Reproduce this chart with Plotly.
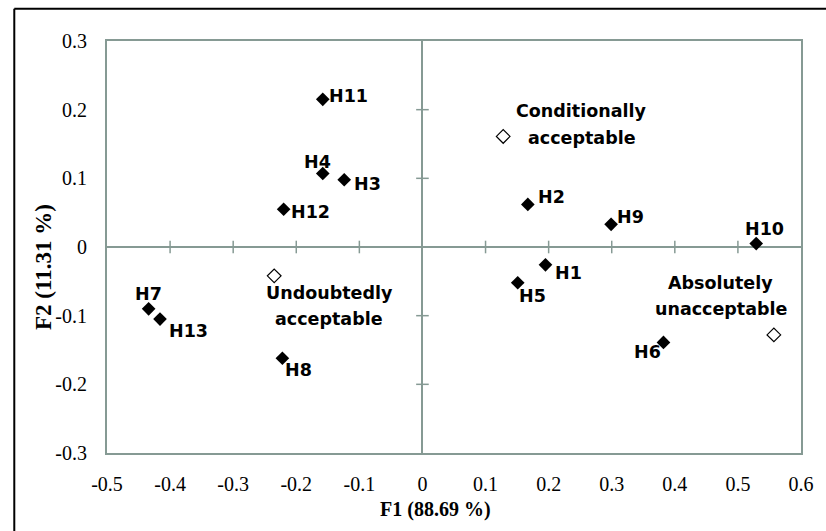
import plotly.graph_objects as go

# ---- data ----
names = ["H1", "H2", "H3", "H4", "H5", "H6", "H7", "H8", "H9", "H10", "H11", "H12", "H13"]
f1 = [0.195, 0.167, -0.124, -0.158, 0.151, 0.382, -0.434, -0.222, 0.299, 0.529, -0.158, -0.220, -0.416]
f2 = [-0.026, 0.062, 0.098, 0.107, -0.052, -0.139, -0.090, -0.162, 0.033, 0.005, 0.215, 0.055, -0.105]

cat_names = [["Conditionally", "acceptable"], ["Undoubtedly", "acceptable"], ["Absolutely", "unacceptable"]]
cat_f1 = [0.128, -0.235, 0.557]
cat_f2 = [0.161, -0.042, -0.128]

x_ticks = [-0.5, -0.4, -0.3, -0.2, -0.1, 0, 0.1, 0.2, 0.3, 0.4, 0.5, 0.6]
x_tick_text = ["-0.5", "-0.4", "-0.3", "-0.2", "-0.1", "0", "0.1", "0.2", "0.3", "0.4", "0.5", "0.6"]
y_ticks = [-0.3, -0.2, -0.1, 0, 0.1, 0.2, 0.3]
y_tick_text = ["-0.3", "-0.2", "-0.1", "0", "0.1", "0.2", "0.3"]

x_title = "F1 (88.69 %)"
y_title = "F2 (11.31 %)"

# ---- label placement (pixel offsets of text centre from its point: right, down) ----
label_offsets = {
    "H1": (23, 8), "H2": (24, -7), "H3": (23, 4.5), "H4": (-5, -12), "H5": (15, 13),
    "H6": (-16, 10), "H7": (0, -15), "H8": (16, 12), "H9": (19.5, -7), "H10": (8, -15),
    "H11": (26, -3), "H12": (27, 3), "H13": (28.5, 12),
}
cat_offsets = [[(78, -25), (78.5, 2)], [(55, 17), (55, 43)], [(-53, -52), (-52.5, -26)]]

AXIS_COLOR = "#869a94"
LABEL_FONT = dict(family="DejaVu Sans", size=17.5, color="black", weight="bold")
SERIF = "Liberation Serif"

fig = go.Figure()

# crossing tick marks on the zero lines
inner_x = [v for v in x_ticks if v not in (0, x_ticks[0], x_ticks[-1])]
inner_y = [v for v in y_ticks if v not in (0, y_ticks[0], y_ticks[-1])]
fig.add_trace(go.Scatter(
    x=inner_x, y=[0] * len(inner_x), mode="markers", hoverinfo="skip",
    marker=dict(symbol="line-ns", size=9, line=dict(color=AXIS_COLOR, width=1.5)),
))
fig.add_trace(go.Scatter(
    x=[0] * len(inner_y), y=inner_y, mode="markers", hoverinfo="skip",
    marker=dict(symbol="line-ew", size=9, line=dict(color=AXIS_COLOR, width=1.5)),
))

fig.add_trace(go.Scatter(
    x=f1, y=f2, mode="markers",
    marker=dict(symbol="diamond", size=10.5, color="black", line=dict(width=0)),
))
fig.add_trace(go.Scatter(
    x=cat_f1, y=cat_f2, mode="markers",
    marker=dict(symbol="diamond-open", size=10.5, color="black", line=dict(width=1.2)),
))

for n, x, y in zip(names, f1, f2):
    dx, dy = label_offsets[n]
    fig.add_annotation(x=x, y=y, text=n, showarrow=False, xanchor="center", yanchor="middle",
                       xshift=dx, yshift=-dy, font=LABEL_FONT)

for lines, x, y, offs in zip(cat_names, cat_f1, cat_f2, cat_offsets):
    for line, (dx, dy) in zip(lines, offs):
        fig.add_annotation(x=x, y=y, text=line, showarrow=False, xanchor="center", yanchor="middle",
                           xshift=dx, yshift=-dy, font=LABEL_FONT)

# axis titles
fig.add_annotation(xref="paper", yref="paper", x=0.474, y=-0.138, text="<b>" + x_title + "</b>",
                   showarrow=False, xanchor="center", yanchor="middle",
                   font=dict(family=SERIF, size=20, color="black"))
fig.add_annotation(xref="paper", yref="paper", x=-0.0907, y=0.4515, text="<b>" + y_title + "</b>",
                   showarrow=False, xanchor="center", yanchor="middle", textangle=-90,
                   font=dict(family=SERIF, size=23, color="black"))

# outer frame (top and left only)
fig.add_shape(type="line", xref="paper", yref="paper", x0=-0.1336, x1=1.05, y0=1.0784, y1=1.0784,
              line=dict(color="black", width=2))
fig.add_shape(type="line", xref="paper", yref="paper", x0=-0.1336, x1=-0.1336, y0=-0.25, y1=1.0784,
              line=dict(color="black", width=2))

fig.update_layout(
    width=826, height=531,
    margin=dict(l=107, r=13, t=41, b=78),
    paper_bgcolor="white", plot_bgcolor="white",
    showlegend=False,
    xaxis=dict(
        range=[-0.5, 0.6], tickvals=x_ticks, ticktext=x_tick_text,
        showgrid=False, zeroline=True, zerolinecolor=AXIS_COLOR, zerolinewidth=2,
        showline=True, mirror=True, linecolor=AXIS_COLOR, linewidth=2,
        ticks="outside", ticklen=12, tickcolor="rgba(0,0,0,0)",
        tickfont=dict(family=SERIF, size=20, color="black"),
    ),
    yaxis=dict(
        range=[-0.3, 0.3], tickvals=y_ticks, ticktext=y_tick_text,
        showgrid=False, zeroline=True, zerolinecolor=AXIS_COLOR, zerolinewidth=2,
        showline=True, mirror=True, linecolor=AXIS_COLOR, linewidth=2,
        ticks="outside", ticklen=14, tickcolor="rgba(0,0,0,0)",
        tickfont=dict(family=SERIF, size=20, color="black"),
    ),
)

fig.write_html("out.html", config={"displayModeBar": False},
               post_script="document.body.style.margin='0px';document.body.style.overflow='hidden';")
